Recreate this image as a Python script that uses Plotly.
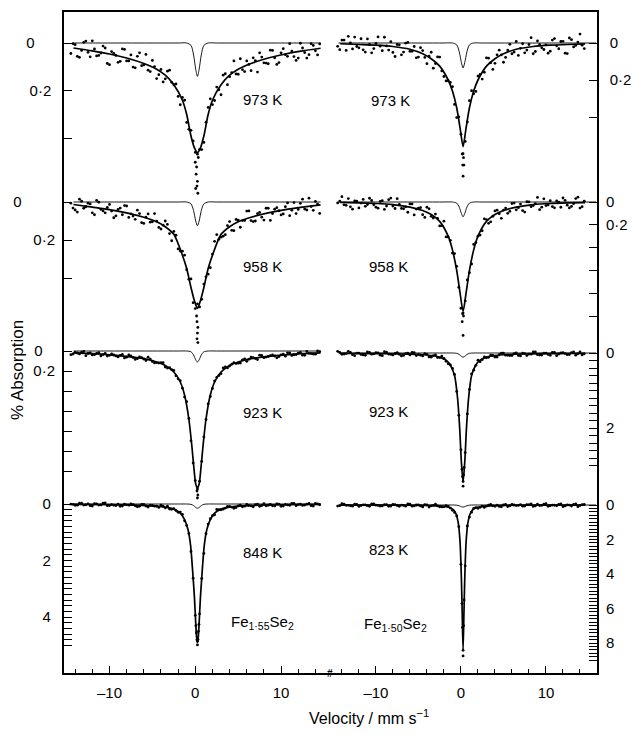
import plotly.graph_objects as go

# ---------------- data ----------------
# velocity channels (mm/s) of the plotted measured points (two interleaved sets)
V_GRID = [-14.5, -14.0, -13.5, -13.0, -12.5, -12.0, -11.5, -11.0, -10.5, -10.0,
          -9.5, -9.0, -8.5, -8.0, -7.5, -7.0, -6.5, -6.0, -5.5, -5.0,
          -4.5, -4.0, -3.5, -3.0, -2.5, -2.0, -1.5, -1.0, -0.5, 0.0,
          0.5, 1.0, 1.5, 2.0, 2.5, 3.0, 3.5, 4.0, 4.5, 5.0,
          5.5, 6.0, 6.5, 7.0, 7.5, 8.0, 8.5, 9.0, 9.5, 10.0,
          10.5, 11.0, 11.5, 12.0, 12.5, 13.0, 13.5, 14.0, 14.5]
V_GRID2 = [-14.25, -13.75, -13.25, -12.75, -12.25, -11.75, -11.25, -10.75, -10.25, -9.75,
           -9.25, -8.75, -8.25, -7.75, -7.25, -6.75, -6.25, -5.75, -5.25, -4.75,
           -4.25, -3.75, -3.25, -2.75, -2.25, -1.75, -1.25, -0.75, -0.25, 0.25,
           0.75, 1.25, 1.75, 2.25, 2.75, 3.25, 3.75, 4.25, 4.75, 5.25,
           5.75, 6.25, 6.75, 7.25, 7.75, 8.25, 8.75, 9.25, 9.75, 10.25,
           10.75, 11.25, 11.75, 12.25, 12.75, 13.25, 13.75, 14.25]

# Fe1.55Se2 (left column)
L1_PTS = [0.044, 0.007, 0.060, -0.003, 0.039, -0.009, 0.054, 0.042, 0.021, 0.091,
          0.044, 0.081, 0.025, 0.075, 0.050, 0.104, 0.041, 0.092, 0.114, 0.073,
          0.149, 0.111, 0.150, 0.114, 0.175, 0.224, 0.228, 0.333, 0.366, 0.459,
          0.447, 0.417, 0.270, 0.258, 0.185, 0.217, 0.129, 0.141, 0.075, 0.131,
          0.112, 0.075, 0.116, 0.074, 0.041, 0.083, 0.087, 0.031, 0.090, 0.041,
          0.049, 0.003, 0.057, 0.063, 0.021, 0.063, 0.003, 0.033, 0.004]
L1_PTS2 = [0.003, 0.056, 0.031, -0.008, 0.058, 0.025, 0.052, 0.013, 0.086, 0.036,
           0.052, 0.077, 0.027, 0.075, 0.101, 0.056, 0.095, 0.048, 0.120, 0.099,
           0.133, 0.163, 0.118, 0.165, 0.172, 0.259, 0.240, 0.362, 0.411, 0.466,
           0.447, 0.332, 0.234, 0.241, 0.196, 0.135, 0.175, 0.124, 0.130, 0.066,
           0.120, 0.090, 0.062, 0.122, 0.059, 0.084, 0.030, 0.062, 0.082, 0.024,
           0.056, 0.034, 0.073, 0.001, 0.040, 0.049, 0.010, 0.050]
L2_PTS = [0.006, 0.042, -0.015, 0.033, 0.006, 0.057, -0.009, 0.039, 0.057, 0.013,
          0.083, 0.039, 0.067, 0.021, 0.062, 0.091, 0.061, 0.113, 0.063, 0.104,
          0.101, 0.142, 0.100, 0.166, 0.155, 0.247, 0.259, 0.356, 0.405, 0.561,
          0.552, 0.432, 0.380, 0.274, 0.172, 0.185, 0.172, 0.103, 0.151, 0.095,
          0.098, 0.048, 0.098, 0.100, 0.055, 0.095, 0.033, 0.061, 0.030, 0.068,
          0.025, 0.072, 0.003, 0.039, -0.015, 0.042, 0.024, -0.003, 0.060]
L2_PTS2 = [0.032, 0.053, -0.004, 0.025, 0.010, 0.067, 0.001, 0.047, 0.029, 0.048,
           0.073, 0.032, 0.019, 0.081, 0.074, 0.043, 0.109, 0.080, 0.106, 0.061,
           0.134, 0.122, 0.118, 0.204, 0.175, 0.258, 0.280, 0.406, 0.530, 0.536,
           0.512, 0.394, 0.346, 0.207, 0.196, 0.180, 0.124, 0.149, 0.092, 0.133,
           0.097, 0.047, 0.103, 0.061, 0.080, 0.033, 0.097, 0.038, 0.046, 0.063,
           0.005, 0.044, 0.061, 0.007, 0.037, -0.020, 0.044, 0.011]
L3_PTS = [0.037, 0.015, 0.029, 0.005, 0.025, 0.039, 0.024, 0.049, 0.023, 0.043,
          0.040, 0.059, 0.034, 0.062, 0.050, 0.084, 0.060, 0.080, 0.062, 0.106,
          0.116, 0.116, 0.160, 0.167, 0.194, 0.278, 0.372, 0.507, 0.898, 1.296,
          1.302, 0.860, 0.529, 0.374, 0.264, 0.227, 0.158, 0.150, 0.116, 0.122,
          0.088, 0.103, 0.062, 0.075, 0.042, 0.067, 0.055, 0.039, 0.068, 0.038,
          0.052, 0.019, 0.038, 0.021, 0.042, 0.005, 0.026, 0.032, 0.006]
L3_PTS2 = [0.030, 0.020, 0.012, 0.047, 0.020, 0.037, 0.016, 0.036, 0.051, 0.028,
           0.049, 0.044, 0.069, 0.039, 0.065, 0.077, 0.066, 0.095, 0.081, 0.119,
           0.120, 0.117, 0.171, 0.186, 0.248, 0.297, 0.461, 0.674, 1.120, 1.380,
           1.104, 0.685, 0.455, 0.300, 0.246, 0.169, 0.169, 0.132, 0.126, 0.120,
           0.078, 0.083, 0.066, 0.086, 0.045, 0.061, 0.047, 0.050, 0.057, 0.031,
           0.018, 0.044, 0.036, 0.015, 0.043, 0.023, 0.030, 0.000]
L4_PTS = [0.006, 0.048, -0.027, 0.039, -0.003, 0.075, -0.007, 0.031, -0.035, 0.055,
          0.045, 0.007, 0.074, 0.029, -0.004, 0.063, 0.079, 0.016, 0.106, 0.053,
          0.079, 0.038, 0.134, 0.176, 0.164, 0.294, 0.368, 0.762, 1.676, 3.932,
          3.880, 1.748, 0.710, 0.412, 0.194, 0.204, 0.144, 0.082, 0.150, 0.067,
          0.101, 0.014, 0.068, 0.023, 0.083, -0.012, 0.045, 0.062, -0.005, 0.081,
          0.015, 0.045, -0.025, 0.021, 0.051, 0.001, 0.059, -0.019, 0.024]
L4_PTS2 = [0.011, 0.040, -0.030, 0.028, 0.058, -0.008, 0.038, -0.032, 0.058, 0.020,
           0.054, 0.080, 0.003, 0.042, 0.022, 0.097, 0.010, 0.071, 0.050, 0.078,
           0.121, 0.076, 0.077, 0.188, 0.232, 0.284, 0.594, 1.046, 2.620, 4.848,
           2.632, 1.050, 0.522, 0.380, 0.204, 0.184, 0.085, 0.108, 0.125, 0.038,
           0.078, 0.047, 0.098, 0.001, 0.054, 0.066, 0.015, 0.068, 0.006, 0.072,
           0.034, -0.024, 0.058, 0.008, 0.038, -0.020, 0.070, -0.004]

# Fe1.50Se2 (right column)
R1_PTS = [0.018, -0.016, 0.040, -0.001, -0.032, 0.026, 0.037, -0.022, 0.053, 0.002,
          0.017, -0.031, 0.038, 0.051, 0.008, 0.064, 0.001, 0.045, 0.019, 0.076,
          0.041, 0.112, 0.050, 0.111, 0.076, 0.181, 0.204, 0.236, 0.403, 0.493,
          0.532, 0.312, 0.274, 0.179, 0.195, 0.080, 0.107, 0.110, 0.039, 0.104,
          0.038, 0.058, -0.008, 0.029, 0.053, 0.008, 0.058, -0.011, 0.026, 0.010,
          0.044, -0.024, 0.031, -0.009, 0.057, -0.018, 0.013, -0.048, 0.030]
R1_PTS2 = [0.036, -0.016, -0.036, 0.032, 0.019, -0.023, 0.049, 0.008, 0.030, -0.033,
           0.042, 0.016, -0.007, 0.073, 0.010, 0.049, -0.003, 0.045, 0.080, 0.025,
           0.078, 0.071, 0.136, 0.075, 0.151, 0.205, 0.213, 0.332, 0.399, 0.598,
           0.427, 0.258, 0.262, 0.170, 0.158, 0.082, 0.143, 0.064, 0.064, 0.078,
           0.007, 0.049, 0.067, 0.004, 0.038, -0.029, 0.046, 0.009, 0.035, 0.055,
           -0.016, 0.015, -0.008, 0.055, -0.027, 0.021, -0.005, 0.012]
R2_PTS = [0.008, -0.047, 0.029, 0.042, -0.009, 0.052, -0.023, 0.022, -0.013, 0.045,
          -0.005, 0.065, -0.020, 0.035, -0.029, 0.056, 0.042, 0.017, 0.113, 0.055,
          0.111, 0.046, 0.126, 0.106, 0.210, 0.168, 0.308, 0.448, 0.564, 0.932,
          0.868, 0.620, 0.372, 0.300, 0.252, 0.154, 0.174, 0.078, 0.102, 0.071,
          0.099, 0.013, 0.069, 0.018, 0.088, -0.001, 0.031, -0.040, 0.045, 0.031,
          -0.011, 0.051, 0.002, -0.035, 0.028, 0.039, -0.030, 0.053, -0.007]
R2_PTS2 = [-0.008, 0.025, -0.030, 0.063, -0.008, 0.009, 0.038, -0.033, 0.024, 0.054,
           -0.012, 0.035, -0.034, 0.057, 0.022, 0.059, 0.090, 0.017, 0.062, 0.049,
           0.135, 0.060, 0.141, 0.143, 0.208, 0.306, 0.336, 0.452, 0.748, 0.972,
           0.684, 0.544, 0.356, 0.290, 0.148, 0.187, 0.125, 0.072, 0.143, 0.053,
           0.082, 0.009, 0.050, 0.075, -0.002, 0.041, 0.014, 0.067, -0.028, 0.026,
           0.040, -0.009, 0.046, -0.015, 0.052, 0.015, -0.042, 0.041]
R3_PTS = [-0.046, 0.034, 0.015, -0.017, 0.072, 0.005, 0.050, -0.029, 0.032, -0.007,
          0.058, -0.033, 0.028, 0.050, -0.012, 0.078, 0.017, 0.052, -0.012, 0.040,
          0.079, 0.039, 0.110, 0.048, 0.122, 0.146, 0.286, 0.410, 1.024, 2.580,
          2.656, 0.972, 0.458, 0.190, 0.178, 0.126, 0.056, 0.106, 0.047, 0.003,
          0.060, 0.068, -0.004, 0.077, 0.014, 0.028, -0.030, 0.044, 0.055, 0.002,
          0.061, -0.016, 0.027, -0.010, 0.045, -0.008, 0.059, -0.029, 0.022]
R3_PTS2 = [-0.018, 0.027, -0.045, 0.044, 0.005, 0.038, 0.063, -0.016, 0.021, -0.002,
           0.071, -0.020, 0.037, 0.011, 0.033, 0.064, 0.007, -0.014, 0.068, 0.057,
           0.014, 0.104, 0.071, 0.120, 0.083, 0.222, 0.320, 0.572, 1.660, 3.424,
           1.624, 0.560, 0.328, 0.230, 0.103, 0.116, 0.067, 0.108, 0.006, 0.057,
           0.068, 0.014, 0.067, 0.004, 0.069, 0.031, -0.027, 0.056, 0.007, 0.038,
           -0.019, 0.072, -0.001, 0.014, 0.041, -0.032, 0.023, 0.051]
R4_PTS = [0.065, -0.073, 0.017, 0.048, -0.048, 0.084, -0.011, 0.037, -0.064, 0.008,
          0.057, -0.015, 0.076, -0.037, 0.030, 0.007, 0.068, -0.044, 0.054, -0.010,
          0.109, -0.012, 0.048, -0.045, 0.102, 0.104, 0.084, 0.310, 0.638, 3.434,
          3.530, 0.698, 0.196, 0.192, 0.062, 0.066, -0.033, 0.072, 0.084, 0.001,
          0.086, -0.030, 0.034, -0.022, 0.061, -0.018, 0.083, -0.050, 0.027, -0.075,
          0.044, 0.014, -0.035, 0.097, -0.006, 0.060, -0.060, 0.029, -0.031]
R4_PTS2 = [0.041, -0.055, 0.017, 0.066, -0.042, 0.030, -0.005, 0.079, -0.058, 0.026,
           0.051, -0.020, 0.065, -0.024, 0.079, 0.026, -0.057, 0.071, 0.001, 0.052,
           -0.027, 0.117, 0.017, 0.052, 0.112, 0.034, 0.178, 0.430, 1.258, 8.424,
           1.216, 0.418, 0.148, 0.136, 0.142, 0.004, 0.047, 0.003, 0.105, -0.038,
           0.043, -0.001, 0.027, 0.068, -0.023, -0.060, 0.053, 0.028, -0.045, 0.074,
           0.002, 0.037, -0.071, 0.054, 0.006, -0.036, 0.095, -0.019]

# extra channels around the line centre
L1_CV = [0.0, 0.1, 0.2, 0.3, 0.15, 0.25, 0.05, 0.35]
L1_CY = [0.50, 0.55, 0.60, 0.63, 0.52, 0.58, 0.61, 0.48]
L2_CV = [0.15, 0.2, 0.3, 0.25, 0.2, 0.3]
L2_CY = [0.60, 0.63, 0.66, 0.69, 0.72, 0.74]
L3_CV = [0.2, 0.3, 0.25]
L3_CY = [1.40, 1.44, 1.47]
L4_CV = [0.13, 0.37, 0.07, 0.43, 0.19, 0.31, 0.25]
L4_CY = [4.55, 4.50, 4.30, 4.25, 4.80, 4.78, 4.98]
R1_CV = [0.15, 0.3, 0.2, 0.35, 0.25]
R1_CY = [0.60, 0.62, 0.66, 0.66, 0.72]
R2_CV = [0.2, 0.3, 0.15, 0.25]
R2_CY = [0.98, 1.00, 1.05, 1.17]
R3_CV = [0.13, 0.37, 0.19, 0.31, 0.25]
R3_CY = [3.10, 3.05, 3.30, 3.25, 3.55]
R4_CV = [0.13, 0.37, 0.19, 0.31, 0.25]
R4_CY = [5.70, 5.50, 7.10, 7.00, 8.75]

# fitted envelopes
FIT_V_WIDE = [-14.2, -12.0, -10.0, -8.0, -6.0, -4.5, -3.5, -2.5, -1.5, -1.0, -0.5, -0.1, 0.25,
              0.6, 1.0, 1.5, 2.0, 3.0, 4.0, 5.0, 6.5, 8.5, 10.5, 12.5, 14.6]
FIT_V_MID = [-14.2, -12.0, -10.0, -8.0, -6.0, -4.5, -3.5, -2.5, -1.75, -1.25, -0.75, -0.4, -0.15,
             0.05, 0.25, 0.45, 0.65, 0.9, 1.25, 1.75, 2.25, 3.0, 4.0, 5.0, 6.5, 8.5, 10.5, 12.5, 14.6]
FIT_V_SHARP = [-14.2, -10.0, -7.0, -5.0, -3.5, -2.5, -1.75, -1.25, -0.85, -0.55, -0.3, -0.1, 0.05,
               0.15, 0.25, 0.35, 0.45, 0.6, 0.8, 1.05, 1.35, 1.75, 2.25, 3.0, 4.0, 5.5, 7.5, 10.5, 14.6]

L1_FIT = [0.021, 0.033, 0.046, 0.063, 0.086, 0.11, 0.135, 0.175, 0.24, 0.30, 0.39, 0.44, 0.46,
          0.44, 0.39, 0.30, 0.24, 0.175, 0.135, 0.11, 0.086, 0.063, 0.046, 0.033, 0.022]
L2_FIT = [0.013, 0.027, 0.040, 0.057, 0.080, 0.104, 0.130, 0.170, 0.280, 0.350, 0.450, 0.520, 0.560,
          0.520, 0.450, 0.350, 0.280, 0.170, 0.130, 0.104, 0.080, 0.057, 0.040, 0.027, 0.015]
L3_FIT = [0.018, 0.027, 0.038, 0.053, 0.077, 0.11, 0.145, 0.21, 0.31, 0.44, 0.68, 0.95, 1.18,
          1.33, 1.37, 1.33, 1.18, 0.95, 0.68, 0.44, 0.31, 0.21, 0.145, 0.11, 0.077, 0.053, 0.038, 0.027, 0.019]
L4_FIT = [0.011, 0.027, 0.043, 0.065, 0.11, 0.18, 0.32, 0.55, 0.90, 1.45, 2.40, 3.30, 4.20,
          4.70, 4.90, 4.70, 4.20, 3.30, 2.40, 1.45, 0.90, 0.55, 0.32, 0.18, 0.11, 0.065, 0.043, 0.027, 0.012]
R1_FIT = [0.004, 0.008, 0.012, 0.019, 0.034, 0.058, 0.085, 0.125, 0.20, 0.26, 0.35, 0.46, 0.56,
          0.46, 0.35, 0.26, 0.20, 0.125, 0.085, 0.058, 0.034, 0.019, 0.012, 0.008, 0.005]
R2_FIT = [0.004, 0.008, 0.013, 0.023, 0.045, 0.075, 0.11, 0.17, 0.30, 0.42, 0.60, 0.80, 0.96,
          0.80, 0.60, 0.42, 0.30, 0.17, 0.11, 0.075, 0.045, 0.023, 0.013, 0.008, 0.005]
R3_FIT = [0.010, 0.013, 0.017, 0.022, 0.032, 0.047, 0.066, 0.11, 0.19, 0.32, 0.60, 1.20, 2.00,
          2.90, 3.44, 2.90, 2.00, 1.20, 0.60, 0.32, 0.19, 0.11, 0.066, 0.047, 0.032, 0.022, 0.017, 0.013, 0.010]
R4_FIT = [0.005, 0.008, 0.013, 0.020, 0.036, 0.060, 0.10, 0.16, 0.30, 0.55, 1.10, 2.20, 4.20,
          6.30, 8.40, 6.30, 4.20, 2.20, 1.10, 0.55, 0.30, 0.16, 0.10, 0.060, 0.036, 0.020, 0.013, 0.008, 0.005]

# weak sub-spectrum (thin line incl. the zero base line)
SUB_V_L = [-14.2, -2.0, -1.0, -0.5, -0.2, 0.05, 0.25, 0.45, 0.7, 1.0, 1.5, 2.5, 14.6]
SUB_V_R = [-14.4, -2.0, -1.0, -0.5, -0.2, 0.05, 0.25, 0.45, 0.7, 1.0, 1.5, 2.5, 15.9]
L1_SUB = [0, 0, 0, 0.010, 0.050, 0.110, 0.140, 0.110, 0.050, 0.010, 0, 0, 0]
L2_SUB = [0, 0, 0, 0.010, 0.045, 0.100, 0.125, 0.100, 0.045, 0.010, 0, 0, 0]
L3_SUB = [0, 0, 0, 0.008, 0.040, 0.088, 0.110, 0.088, 0.040, 0.008, 0, 0, 0]
L4_SUB = [0, 0, 0, 0.012, 0.055, 0.120, 0.150, 0.120, 0.055, 0.012, 0, 0, 0]
R1_SUB = [0, 0, 0, 0.010, 0.048, 0.105, 0.135, 0.105, 0.048, 0.010, 0, 0, 0]
R2_SUB = [0, 0, 0, 0.010, 0.045, 0.100, 0.130, 0.100, 0.045, 0.010, 0, 0, 0]
R3_SUB = [0, 0, 0, 0.008, 0.040, 0.088, 0.110, 0.088, 0.040, 0.008, 0, 0, 0]
R4_SUB = [0, 0, 0, 0.010, 0.045, 0.095, 0.120, 0.095, 0.045, 0.010, 0, 0, 0]

TEMPS_L = ["973 K", "958 K", "923 K", "848 K"]
TEMPS_R = ["973 K", "958 K", "923 K", "823 K"]
SAMPLE_L = "Fe<sub>1·55</sub>Se<sub>2</sub>"
SAMPLE_R = "Fe<sub>1·50</sub>Se<sub>2</sub>"
X_TICKS = [-10, 0, 10]
X_TICK_TEXT = ["\u201310", "0", "10"]
X_MINOR = [-14, -12, -8, -6, -4, -2, 2, 4, 6, 8, 12, 14]

# ---------------- figure ----------------
W, H = 633, 735
FONT = "Liberation Sans, Arial, sans-serif"
NB = "\u00a0"

spectra = [
    ("x", "y", L1_PTS, L1_PTS2, L1_CV, L1_CY, FIT_V_WIDE, L1_FIT, SUB_V_L, L1_SUB),
    ("x", "y2", L2_PTS, L2_PTS2, L2_CV, L2_CY, FIT_V_WIDE, L2_FIT, SUB_V_L, L2_SUB),
    ("x", "y3", L3_PTS, L3_PTS2, L3_CV, L3_CY, FIT_V_MID, L3_FIT, SUB_V_L, L3_SUB),
    ("x", "y4", L4_PTS, L4_PTS2, L4_CV, L4_CY, FIT_V_SHARP, L4_FIT, SUB_V_L, L4_SUB),
    ("x2", "y5", R1_PTS, R1_PTS2, R1_CV, R1_CY, FIT_V_WIDE, R1_FIT, SUB_V_R, R1_SUB),
    ("x2", "y6", R2_PTS, R2_PTS2, R2_CV, R2_CY, FIT_V_WIDE, R2_FIT, SUB_V_R, R2_SUB),
    ("x2", "y7", R3_PTS, R3_PTS2, R3_CV, R3_CY, FIT_V_MID, R3_FIT, SUB_V_R, R3_SUB),
    ("x2", "y8", R4_PTS, R4_PTS2, R4_CV, R4_CY, FIT_V_SHARP, R4_FIT, SUB_V_R, R4_SUB),
]

fig = go.Figure()
for xa, ya, pts, pts2, cv, cy, fv, fy, sv, sy in spectra:
    fig.add_trace(go.Scatter(x=sv, y=sy, xaxis=xa, yaxis=ya, mode="lines",
                             line=dict(color="black", width=0.9, shape="spline", smoothing=0.8),
                             hoverinfo="skip"))
    fig.add_trace(go.Scatter(x=fv, y=fy, xaxis=xa, yaxis=ya, mode="lines",
                             line=dict(color="black", width=1.7, shape="spline", smoothing=0.7),
                             hoverinfo="skip"))
    fig.add_trace(go.Scatter(x=V_GRID + V_GRID2 + cv, y=pts + pts2 + cy, xaxis=xa, yaxis=ya,
                             mode="markers",
                             marker=dict(color="black", size=2.8, line=dict(width=0)),
                             hoverinfo="skip"))

# plot area in pixels
TOP, BOT = 12, 673
LEFT, MID, RIGHT = 64, 330, 597
ydom = [1 - BOT / H, 1 - TOP / H]


def yrange(base, s):
    return [(BOT - base) / s, (TOP - base) / s]


def step_ticks(top, skip):
    vals = []
    i = 1
    while i * 0.2 <= top + 1e-9:
        v = round(i * 0.2, 1)
        if all(abs(v - k) > 1e-6 for k in skip):
            vals.append(v)
        i += 1
    return vals


tickfont = dict(family=FONT, size=15, color="black")
common_x = dict(showgrid=False, zeroline=False, showline=True, linecolor="black", linewidth=1.5,
                mirror=True, ticks="inside", ticklen=7, tickwidth=1.2, tickcolor="black",
                tickvals=X_TICKS, ticktext=X_TICK_TEXT, tickfont=tickfont,
                ticklabelstandoff=5,
                minor=dict(tickvals=X_MINOR, ticks="inside", ticklen=4, tickwidth=1.1,
                           tickcolor="black", showgrid=False))

fig.update_layout(
    xaxis=dict(domain=[LEFT / W, MID / W], range=[-15.3, 15.7], anchor="y", **common_x),
    xaxis2=dict(domain=[MID / W, RIGHT / W], range=[-15.4, 16.0], anchor="y5", **common_x),
)

# (axis, anchor, side, base pixel, px per unit, labelled ticks, labels, unlabelled ticks, line)
yspecs = [
    ("yaxis", "x", "left", 43, 238.5, [0, 0.2], ["0" + NB * 4, "0·2"], [0.4], True),
    ("yaxis2", "x", "left", 202, 190, [0, 0.2], ["0" + NB * 8, "0·2"], [0.4], False),
    ("yaxis3", "x", "left", 351, 100, [0, 0.2], ["0" + NB * 3, "0·2"],
     [0.4, 0.6, 0.8, 1.0, 1.2], False),
    ("yaxis4", "x", "left", 504, 28.3, [0, 2, 4], ["0" + NB, "2" + NB, "4" + NB],
     step_ticks(5.0, [2, 4]), False),
    ("yaxis5", "x2", "right", 43, 185, [0, 0.2], ["0", "0·2"], [0.4], True),
    ("yaxis6", "x2", "right", 202, 114, [0, 0.2], ["0", "0·2"], [0.4, 0.6, 0.8, 1.0], False),
    ("yaxis7", "x2", "right", 353, 37.5, [0, 2], ["0", "2"], step_ticks(3.0, [2]), False),
    ("yaxis8", "x2", "right", 505, 17.25, [0, 2, 4, 6, 8], ["0", "2", "4", "6", "8"],
     step_ticks(9.0, [2, 4, 6, 8]), False),
]
for name, anchor, side, base, s, tv, tt, mv, line in yspecs:
    ax = dict(domain=ydom, anchor=anchor, side=side, range=yrange(base, s),
              showgrid=False, zeroline=False, showline=line, linecolor="black", linewidth=1.5,
              ticks="inside", ticklen=8, tickwidth=1.2, tickcolor="black",
              tickvals=tv, ticktext=tt, tickfont=tickfont, ticklabelstandoff=8,
              minor=dict(tickvals=mv, ticks="inside", ticklen=8, tickwidth=1.0,
                         tickcolor="black", showgrid=False))
    fig.update_layout({name: ax})

ann = []
lab_font = dict(family=FONT, size=15, color="black")
# temperature labels (data coordinates of each spectrum)
pos_L = [("y", 7.8, 0.235), ("y2", 7.8, 0.337), ("y3", 7.8, 0.61), ("y4", 7.8, 1.7)]
pos_R = [("y5", -8.3, 0.31), ("y6", -8.5, 0.57), ("y7", -8.5, 1.57), ("y8", -8.5, 2.6)]
for (ya, xv, yv), t in zip(pos_L, TEMPS_L):
    ann.append(dict(text=t, xref="x", yref=ya, x=xv, y=yv, showarrow=False, font=lab_font,
                    xanchor="center", yanchor="middle"))
for (ya, xv, yv), t in zip(pos_R, TEMPS_R):
    ann.append(dict(text=t, xref="x2", yref=ya, x=xv, y=yv, showarrow=False, font=lab_font,
                    xanchor="center", yanchor="middle"))
ann.append(dict(text=SAMPLE_L, xref="x", yref="y4", x=7.8, y=4.2, showarrow=False, font=lab_font,
                xanchor="center", yanchor="middle"))
ann.append(dict(text=SAMPLE_R, xref="x2", yref="y8", x=-7.7, y=6.9, showarrow=False, font=lab_font,
                xanchor="center", yanchor="middle"))
# axis titles
ann.append(dict(text="Velocity / mm s<sup>\u22121</sup>", xref="paper", yref="paper",
                x=369 / W, y=1 - 717 / H, showarrow=False, xanchor="center", yanchor="middle",
                font=dict(family=FONT, size=16, color="black")))
ann.append(dict(text="% Absorption", xref="paper", yref="paper", x=17 / W, y=1 - 370 / H,
                textangle=-90, showarrow=False, xanchor="center", yanchor="middle",
                font=dict(family=FONT, size=17, color="black")))
# axis break mark
ann.append(dict(text="<b>#</b>", xref="x2", yref="paper", x=-15.4, y=1 - BOT / H,
                showarrow=False, xanchor="center", yanchor="middle",
                font=dict(family=FONT, size=10, color="black")))

fig.update_layout(
    width=W, height=H, margin=dict(l=0, r=0, t=0, b=0),
    paper_bgcolor="white", plot_bgcolor="rgba(0,0,0,0)",
    showlegend=False, annotations=ann,
)

fig.write_html("out.html", config={"displayModeBar": False},
               post_script="document.body.style.margin='0px';document.body.style.overflow='hidden';")
